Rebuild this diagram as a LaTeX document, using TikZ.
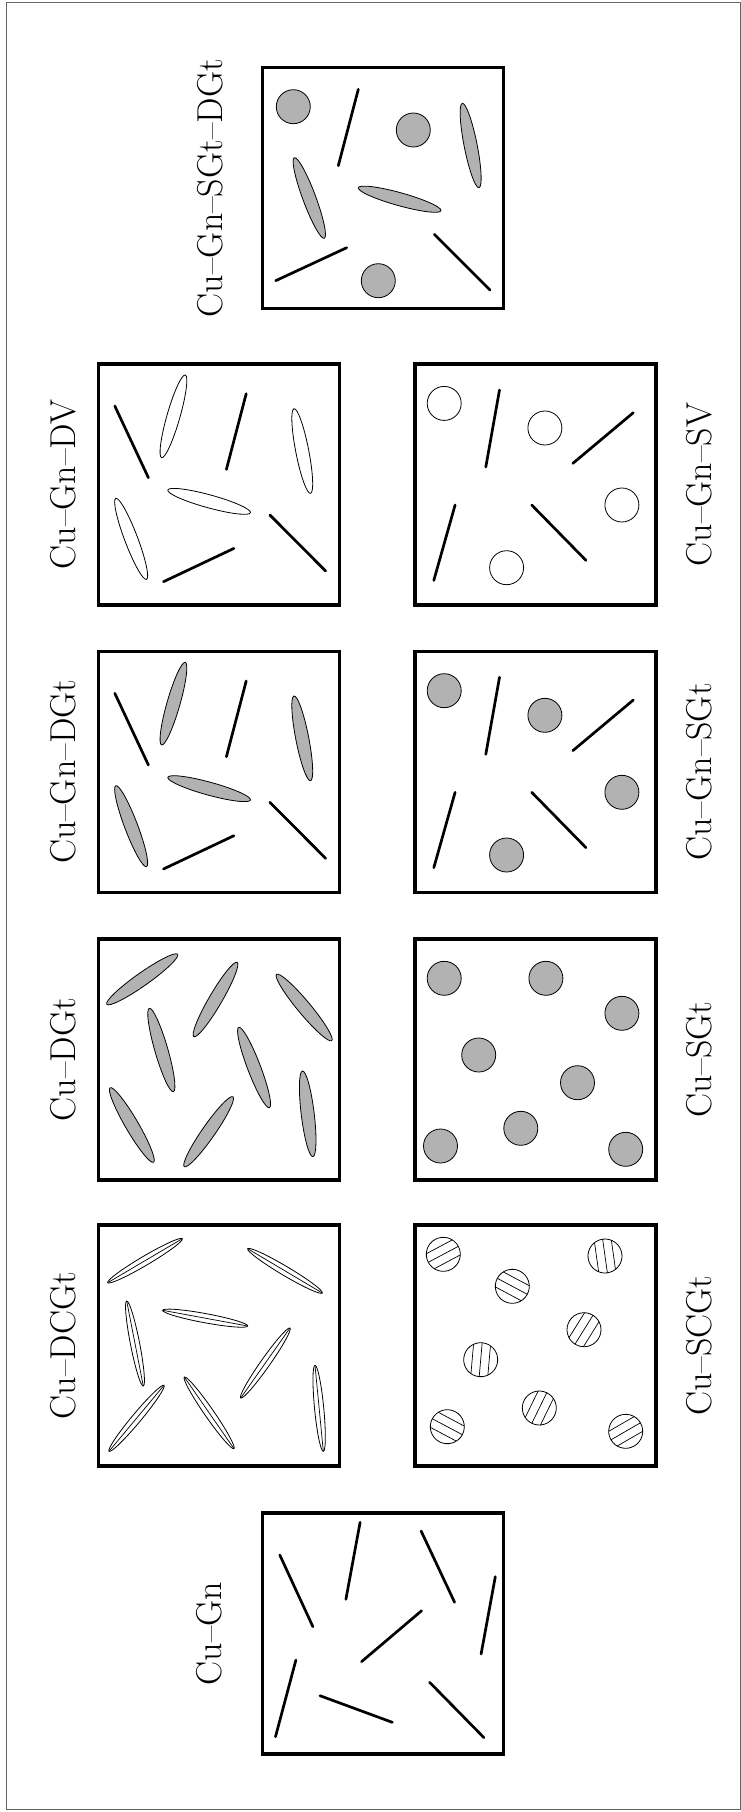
\documentclass[tikz,border=0pt]{standalone}
\usepackage{fontspec}
\definecolor{fillg}{gray}{0.7}
\definecolor{framec}{gray}{0.4}
\tikzset{
  boxst/.style={line width=3.2pt},
  stick/.style={line width=2.7pt, line cap=round},
  grain/.style={draw, line width=0.8pt, fill=fillg},
  void/.style={draw, line width=0.8pt, fill=white},
  hatch/.style={line width=0.7pt},
  lbl/.style={rotate=90, anchor=base, inner sep=0pt, font=\fontsize{36}{42}\selectfont},
}
% ellipse (rod) between two end points of its major axis, #6 = semi-minor axis
\newcommand\rod[6][grain]{%
  \pgfmathsetmacro\rcx{(#2+#4)/2}%
  \pgfmathsetmacro\rcy{(#3+#5)/2}%
  \pgfmathsetmacro\rang{-atan2(#5-#3,#4-#2)}%
  \pgfmathsetmacro\rlen{veclen(#4-#2,#5-#3)/2}%
  \path[#1, rotate around={\rang:(\rcx,\rcy)}] (\rcx,\rcy) ellipse [x radius=\rlen, y radius=#6];
}
% coated rod: white ellipse with its axis drawn
\newcommand\crod[4]{%
  \rod[void]{#1}{#2}{#3}{#4}{4.6}%
  \draw[hatch] (#1,#2) -- (#3,#4);
}
% hatched circle: centre #1,#2, hatch angle #3 (page, ccw)
\newcommand\hcirc[3]{%
  \begin{scope}[rotate around={#3:(#1,#2)}]
    \draw[void] (#1,#2) circle[radius=17];
    \draw[hatch] (#1-14.7,#2-8.5) -- (#1+14.7,#2-8.5);
    \draw[hatch] (#1-17,#2) -- (#1+17,#2);
    \draw[hatch] (#1-14.7,#2+8.5) -- (#1+14.7,#2+8.5);
  \end{scope}
}
\newcommand\gnlayout[1]{%
  \draw[stick] (16.5,42) -- (50.1,113.7);
  \draw[stick] (147.9,29.7) -- (128.1,105.4);
  \draw[stick] (65.2,217.7) -- (135.6,184.4);
  \draw[stick] (171.6,151) -- (227.3,207);
  \rod[#1]{87}{11}{63.3}{93.7}{6.5}
  \rod[#1]{195.7}{44.7}{212.2}{129.4}{6.5}
  \rod[#1]{69.5}{126}{152.2}{148.7}{6.5}
  \rod[#1]{17.5}{134.4}{48.2}{215.4}{6.5}
}
\newcommand\svlayout[1]{%
  \draw[#1] (29.2,39.4) circle[radius=17];
  \draw[#1] (129.9,64) circle[radius=17];
  \draw[#1] (206.9,141) circle[radius=17];
  \draw[#1] (91.6,203.7) circle[radius=17];
  \draw[stick] (84.5,26) -- (70.8,103);
  \draw[stick] (218.3,48.7) -- (157.8,99.4);
  \draw[stick] (40.1,141) -- (18.8,216.4);
  \draw[stick] (116.7,141) -- (171,196.4);
}
\begin{document}
\begin{tikzpicture}[x=1pt,y=-1pt]
\useasboundingbox (0,0) rectangle (741,1812);
\fill[white] (0,0) rectangle (741,1812);
\draw[framec, line width=0.8pt] (6.7,2.3) rectangle (740.3,1809.3);

% ---------- top: Cu-Gn-SGt-DGt
\begin{scope}[shift={(262.5,67.5)}]
  \draw[boxst] (0,0) rectangle (241,241);
  \draw[grain] (30.8,39.2) circle[radius=17];
  \draw[grain] (150.8,62.5) circle[radius=17];
  \draw[grain] (115.8,213.2) circle[radius=17];
  \draw[stick] (95.8,21.8) -- (75.8,98.2);
  \draw[stick] (13.2,213.2) -- (84.2,180.2);
  \draw[stick] (171.8,166.8) -- (227.5,222.5);
  \rod{199.8}{35.8}{216.5}{120.2}{6.5}
  \rod{31.8}{90.2}{61.8}{170.8}{6.5}
  \rod{95.8}{120.2}{178.5}{143.2}{6.5}
\end{scope}

% ---------- row 2
\begin{scope}[shift={(98.3,364)}]
  \draw[boxst] (0,0) rectangle (241,241);
  \gnlayout{void}
\end{scope}
\begin{scope}[shift={(415,364)}]
  \draw[boxst] (0,0) rectangle (241,241);
  \svlayout{void}
\end{scope}

% ---------- row 3
\begin{scope}[shift={(98.3,651.3)}]
  \draw[boxst] (0,0) rectangle (241,241);
  \gnlayout{grain}
\end{scope}
\begin{scope}[shift={(415,651.3)}]
  \draw[boxst] (0,0) rectangle (241,241);
  \svlayout{grain}
\end{scope}

% ---------- row 4
\begin{scope}[shift={(98.3,939)}]
  \draw[boxst] (0,0) rectangle (241,241);
  \rod{8.5}{65.3}{79.4}{15.3}{6.5}
  \rod{95.5}{97.7}{138.9}{23.3}{6.5}
  \rod{178.2}{35.3}{233.5}{101.7}{6.5}
  \rod{51}{69.3}{75.1}{152.7}{6.5}
  \rod{140.4}{88.3}{171.1}{168.7}{6.5}
  \rod{204.2}{132}{214.6}{217.7}{6.5}
  \rod{11.8}{148.7}{55.3}{223.3}{6.5}
  \rod{86}{227.7}{134.7}{157.7}{6.5}
\end{scope}
\begin{scope}[shift={(415,939)}]
  \draw[boxst] (0,0) rectangle (241,241);
  \draw[grain] (29.2,39.3) circle[radius=17];
  \draw[grain] (130.9,39.3) circle[radius=17];
  \draw[grain] (206.9,74.3) circle[radius=17];
  \draw[grain] (63.7,116) circle[radius=17];
  \draw[grain] (162.5,143.7) circle[radius=17];
  \draw[grain] (105.8,189.3) circle[radius=17];
  \draw[grain] (25.5,207) circle[radius=17];
  \draw[grain] (210.7,210.3) circle[radius=17];
\end{scope}

% ---------- row 5
\begin{scope}[shift={(98.3,1225)}]
  \draw[boxst] (0,0) rectangle (241,241);
  \crod{9.4}{57.7}{84}{13.7}
  \crod{149.4}{23.7}{224}{68}
  \crod{28.4}{76}{45}{161}
  \crod{64.4}{85.3}{149.4}{101}
  \crod{191.7}{103}{142.4}{173}
  \crod{216.7}{140.3}{225}{226.3}
  \crod{65.7}{160.3}{10.7}{226.3}
  \crod{86}{152}{135.7}{223.7}
\end{scope}
\begin{scope}[shift={(415,1225)}]
  \draw[boxst] (0,0) rectangle (241,241);
  \hcirc{28.3}{29.3}{28}
  \hcirc{190}{31}{98}
  \hcirc{97.3}{61.3}{-28}
  \hcirc{169}{104.7}{58}
  \hcirc{65.7}{134.7}{85}
  \hcirc{124.3}{183}{64}
  \hcirc{32.3}{201.7}{-28}
  \hcirc{210.7}{206.3}{30}
\end{scope}

% ---------- bottom: Cu-Gn
\begin{scope}[shift={(262.5,1513)}]
  \draw[boxst] (0,0) rectangle (241,241);
  \draw[stick] (17.3,42) -- (50.4,113.7);
  \draw[stick] (97.6,9.3) -- (83.4,86.3);
  \draw[stick] (158.6,18) -- (192.1,89.3);
  \draw[stick] (232.8,63.7) -- (218.6,141);
  \draw[stick] (159.1,97.7) -- (99,148.7);
  \draw[stick] (33.4,147) -- (13,223.7);
  \draw[stick] (57.5,182.7) -- (129.8,209.3);
  \draw[stick] (167.1,169.3) -- (221.5,224.7);
\end{scope}

% ---------- labels
\node[lbl] (lSGDG)  at (222,188)    {Cu--Gn--SGt--DGt};
\node[lbl] (lGnDV)  at (75,484.5)   {Cu--Gn--DV};
\node[lbl] (lGnSV)  at (711,484.5)  {Cu--Gn--SV};
\node[lbl] (lGnDGt) at (75,771.8)   {Cu--Gn--DGt};
\node[lbl] (lGnSGt) at (711,771.8)  {Cu--Gn--SGt};
\node[lbl] (lDGt)   at (75,1059.5)  {Cu--DGt};
\node[lbl] (lSGt)   at (711,1059.5) {Cu--SGt};
\node[lbl] (lDCGt)  at (75,1345.5)  {Cu--DCGt};
\node[lbl] (lSCGt)  at (711,1345.5) {Cu--SCGt};
\node[lbl] (lGn)    at (221,1633.5) {Cu--Gn};
\end{tikzpicture}
\end{document}
